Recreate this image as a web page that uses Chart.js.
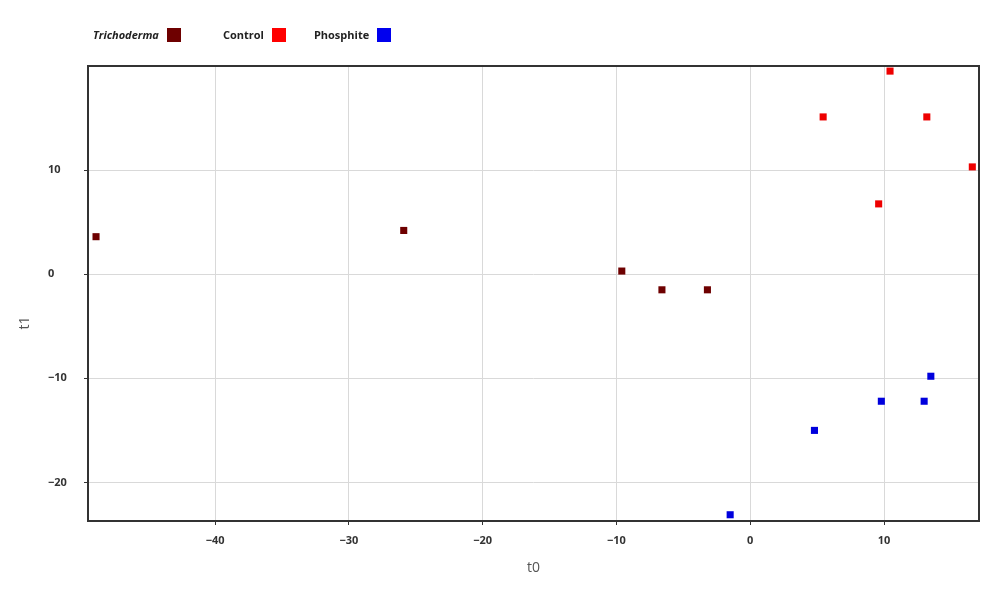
<!DOCTYPE html>
<html>
<head>
<meta charset="utf-8">
<script src="https://cdn.jsdelivr.net/npm/chart.js@4"></script>
<style>
  body { margin: 0; background: #fff; }
  #wrap { position: relative; width: 998px; height: 590px; }
  #legend { position: absolute; top: 27px; left: 93px; font: bold 11px "Open Sans", sans-serif; color: #222; display: flex; }
  #legend span.item { display: flex; align-items: center; }
  #legend i.box { display: inline-block; width: 14px; height: 14px; margin-left: 8px; }
</style>
</head>
<body>
<div id="wrap">
  <canvas id="scoreChart" width="998" height="590"></canvas>
  <div id="legend">
    <span class="item" style="margin-right:42px"><em>Trichoderma</em><i class="box" style="background:#6e0000"></i></span>
    <span class="item" style="margin-right:28px">Control<i class="box" style="background:#ff0000"></i></span>
    <span class="item">Phosphite<i class="box" style="background:#0000ee"></i></span>
  </div>
</div>
<script>
const trichodermaX = [-48.9, -25.9, -9.6, -6.6, -3.2];
const trichodermaY = [3.6, 4.2, 0.3, -1.5, -1.5];
const controlX = [10.45, 5.45, 13.2, 16.6, 9.6];
const controlY = [19.5, 15.1, 15.1, 10.3, 6.75];
const phosphiteX = [13.5, 9.8, 13.0, 4.8, -1.5];
const phosphiteY = [-9.8, -12.2, -12.2, -15.0, -23.1];

function pts(xs, ys) {
    return xs.map((x, i) => ({x: x, y: ys[i]}));
}

const tickFont = {family: '"Open Sans", sans-serif', size: 11, weight: 'bold'};
const minusLabel = v => String(v).replace('-', '\u2212');

// frame round the plot area and the y title
const framePlugin = {
    id: 'frame',
    afterDraw(chart) {
        const {ctx, chartArea: a} = chart;
        ctx.save();
        ctx.strokeStyle = '#333';
        ctx.lineWidth = 2;
        ctx.strokeRect(a.left, a.top, a.right - a.left, a.bottom - a.top);
        ctx.translate(25, 323);
        ctx.rotate(-Math.PI / 2);
        ctx.fillStyle = '#555';
        ctx.font = '14px "Open Sans", sans-serif';
        ctx.textAlign = 'center';
        ctx.textBaseline = 'middle';
        ctx.fillText('t1', 0, 0);
        ctx.restore();
    }
};

const scoreChart = new Chart(document.getElementById('scoreChart'), {
    type: 'scatter',
    data: {
        datasets: [
            {label: 'Trichoderma', data: pts(trichodermaX, trichodermaY), backgroundColor: '#6e0000', borderColor: '#6e0000'},
            {label: 'Control', data: pts(controlX, controlY), backgroundColor: '#ee0000', borderColor: '#ee0000'},
            {label: 'Phosphite', data: pts(phosphiteX, phosphiteY), backgroundColor: '#0000dd', borderColor: '#0000dd'}
        ]
    },
    options: {
        responsive: false,
        animation: false,
        elements: {point: {pointStyle: 'rect', radius: 5, borderWidth: 0}},
        layout: {padding: {left: 48, top: 66, right: 19, bottom: 10}},
        plugins: {legend: {display: false}, tooltip: {enabled: false}},
        scales: {
            x: {
                min: -49.5,
                max: 17.1,
                ticks: {stepSize: 10, includeBounds: false, font: tickFont, color: '#333', padding: 9, callback: minusLabel},
                grid: {color: '#d9d9d9', tickColor: '#333', tickLength: 4},
                border: {display: false},
                title: {display: true, text: 't0', color: '#555', font: {family: '"Open Sans", sans-serif', size: 14}, padding: {top: 4, bottom: 4}},
                afterFit(scale) { scale.height = 59; }
            },
            y: {
                min: -23.7,
                max: 19.99,
                ticks: {stepSize: 10, includeBounds: false, font: tickFont, color: '#333', crossAlign: 'far', callback: minusLabel},
                grid: {color: '#d9d9d9', tickColor: '#333', tickLength: 4},
                border: {display: false},
                afterFit(scale) { scale.width = 40; }
            }
        }
    },
    plugins: [framePlugin]
});
</script>
</body>
</html>
